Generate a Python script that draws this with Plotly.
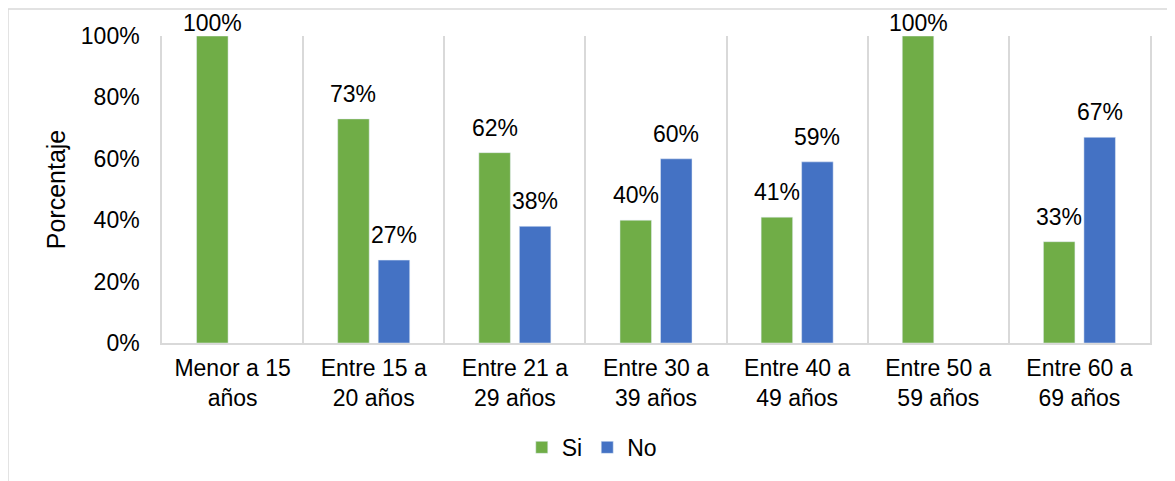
import plotly.graph_objects as go

categories = ["Menor a 15<br>años", "Entre 15 a<br>20 años", "Entre 21 a<br>29 años",
              "Entre 30 a<br>39 años", "Entre 40 a<br>49 años", "Entre 50 a<br>59 años",
              "Entre 60 a<br>69 años"]
si_values = [1.00, 0.73, 0.62, 0.40, 0.41, 1.00, 0.33]
no_values = [None, 0.27, 0.38, 0.60, 0.59, None, 0.67]
y_ticks = [0, 0.2, 0.4, 0.6, 0.8, 1.0]
y_tick_labels = ["0%", "20%", "40%", "60%", "80%", "100%"]

font_family = "Liberation Sans, Arial, sans-serif"
grid_col = "#d9d9d9"

fig = go.Figure()
fig.add_trace(go.Bar(x=categories, y=si_values, name="Si", marker_color="#70AD47"))
fig.add_trace(go.Bar(x=categories, y=no_values, name="No", marker_color="#4472C4"))

# data labels sit a bit above each bar, like excel does
labels = []
for vals, shift in [(si_values, -20.25), (no_values, 20.25)]:
    for cat, v in zip(categories, vals):
        if v is None:
            continue
        labels.append(dict(x=cat, y=v, xref="x", yref="y", text=f"{round(v * 100)}%",
                           showarrow=False, yanchor="bottom", xshift=shift,
                           yshift=-2 if v >= 1 else 10,
                           font=dict(size=23, color="black")))

fig.update_layout(
    width=1167, height=473,
    margin=dict(l=154, r=25, t=28, b=133),
    paper_bgcolor="white", plot_bgcolor="white",
    font=dict(family=font_family, size=23, color="black"),
    barmode="group", bargap=0.426, bargroupgap=0.222,
    legend=dict(orientation="h", x=0.435, xanchor="center", y=-0.34, yanchor="middle",
                font=dict(size=23), itemwidth=30, traceorder="normal"),
    xaxis=dict(tickson="boundaries", showgrid=True, gridcolor=grid_col, gridwidth=1.5,
               showline=True, linecolor=grid_col, linewidth=1.5, ticks="",
               tickfont=dict(size=23), automargin=False, ticklabelstandoff=4),
    yaxis=dict(range=[0, 1], tickvals=y_ticks, ticktext=y_tick_labels, showgrid=False,
               showline=True, mirror=True, linecolor=grid_col, linewidth=1.5,
               zeroline=False, ticks="", ticklabelstandoff=16, automargin=False,
               tickfont=dict(size=23),
               title=dict(text="Porcentaje", font=dict(size=25), standoff=8)),
    annotations=labels,
    shapes=[dict(type="rect", xref="paper", yref="paper",
                 x0=-0.1559, x1=1.2, y0=-0.6, y1=1.088,
                 line=dict(color=grid_col, width=1.5), layer="below")],
)

fig.write_html("out.html")
